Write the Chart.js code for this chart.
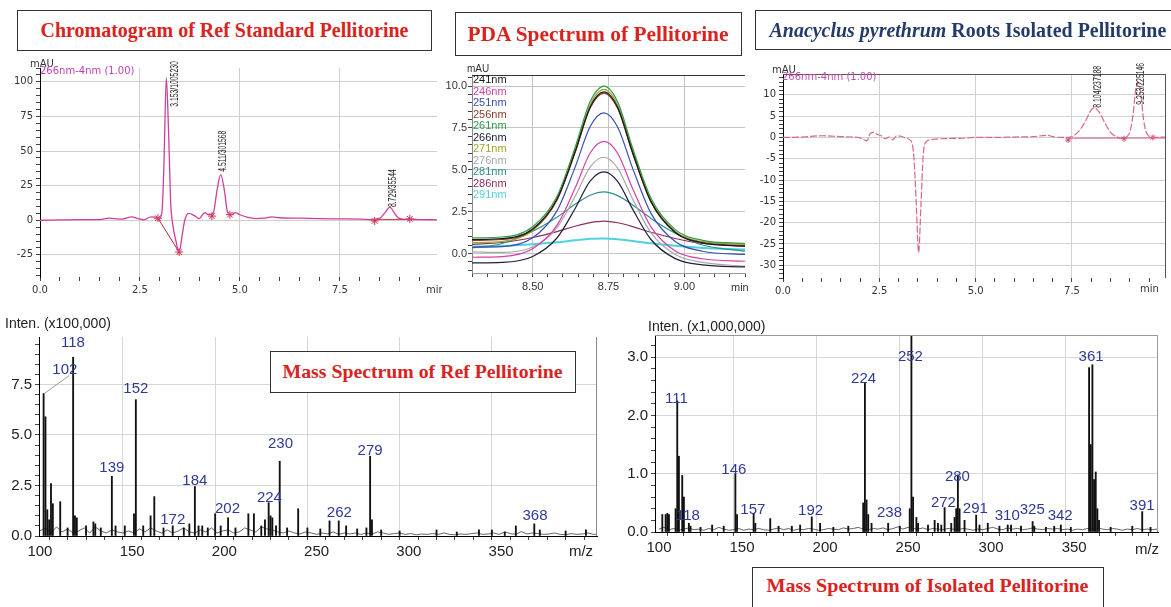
<!DOCTYPE html>
<html>
<head>
<meta charset="utf-8">
<script src="https://cdn.jsdelivr.net/npm/chart.js@4.4.1/dist/chart.umd.min.js"></script>
<style>
    body { margin: 0; width: 1171px; height: 607px; background: #fff; position: relative; overflow: hidden; font-family: "Liberation Serif", serif; }
    .pane { position: absolute; }
    .box { position: absolute; border: 1.5px solid #333; background: #fff; box-sizing: border-box; display: flex; align-items: center; justify-content: center; font-weight: bold; white-space: nowrap; z-index: 2; }
    .fit { display: inline-block; transform-origin: center; }
</style>
</head>
<body>
<div class="pane" style="left:0;top:40px;width:442px;height:262px"><canvas id="chrom1"></canvas></div>
<div class="pane" style="left:440px;top:58px;width:310px;height:242px"><canvas id="pda"></canvas></div>
<div class="pane" style="left:750px;top:58px;width:421px;height:245px"><canvas id="chrom2"></canvas></div>
<div class="pane" style="left:0;top:310px;width:605px;height:253px"><canvas id="ms1"></canvas></div>
<div class="pane" style="left:610px;top:310px;width:561px;height:255px"><canvas id="ms2"></canvas></div>

<div class="box" style="left:17px;top:10px;width:415px;height:41px"><span class="fit" data-w="368" style="color:#d8231f;font-size:21px">Chromatogram of Ref Standard Pellitorine</span></div>
<div class="box" style="left:455px;top:12px;width:287px;height:44px"><span class="fit" data-w="261" style="color:#d8231f;font-size:21px">PDA Spectrum of Pellitorine</span></div>
<div class="box" style="left:755px;top:10px;width:425px;height:40px"><span class="fit" data-w="397" style="color:#233a6b;font-size:20px"><i>Anacyclus pyrethrum</i> Roots Isolated Pellitorine</span></div>
<div class="box" style="left:270px;top:351px;width:306px;height:42px"><span class="fit" data-w="280" style="color:#d8231f;font-size:19px">Mass Spectrum of Ref Pellitorine</span></div>
<div class="box" style="left:752px;top:567px;width:352px;height:44px;padding-bottom:7px"><span class="fit" data-w="322" style="color:#d8231f;font-size:19px">Mass Spectrum of Isolated Pellitorine</span></div>

<script>
// chromatogram of reference standard (min, mAU)
const chrom1T = [0, 0.5, 1.0, 1.5, 1.72, 1.85, 2.05, 2.3, 2.45, 2.6, 2.78, 2.9, 2.98, 3.05, 3.1, 3.16, 3.22, 3.27, 3.32, 3.4, 3.48, 3.55, 3.62, 3.72, 3.85, 3.98, 4.12, 4.22, 4.33, 4.43, 4.52, 4.61, 4.69, 4.78, 4.88, 5.0, 5.2, 5.4, 5.6, 5.8, 6.0, 6.5, 7.0, 7.5, 8.0, 8.3, 8.5, 8.63, 8.75, 8.87, 8.97, 9.1, 9.5, 9.93];
const chrom1Y = [0, 0.2, 0.4, 0.5, 1.5, 1.2, 0.8, 2.5, 1.2, 0.3, 2.5, 2.2, 1.2, 6, 40, 103, 60, 12, -3, -15, -23, -12, 0, 5, 3.5, 1.2, 5.5, 4, 5, 22, 33, 22, 6, 4, 5.5, 4, 2, 1.2, 1.5, 2.5, 1.8, 1.5, 1.2, 1.0, 0.8, 0.5, 1.5, 5.5, 9.5, 5, 1.5, 0.8, 0.5, 0.3];
const chrom1MarkT = [2.95, 3.48, 4.3, 4.75, 8.37, 9.25];
const chrom1MarkY = [1.5, -23, 3, 4, -0.5, 1];
const chrom1Peaks = ["3.153/1005230", "4.511/301568", "8.729/35544"];

// isolated pellitorine chromatogram
const chrom2T = [0, 0.5, 1.0, 1.5, 2.0, 2.18, 2.26, 2.35, 2.45, 2.55, 2.65, 2.75, 2.85, 2.95, 3.05, 3.2, 3.33, 3.4, 3.46, 3.52, 3.58, 3.64, 3.72, 3.85, 4.1, 4.6, 5.0, 5.5, 6.0, 6.5, 6.85, 7.0, 7.2, 7.45, 7.65, 7.85, 7.98, 8.08, 8.2, 8.35, 8.5, 8.65, 8.8, 8.98, 9.08, 9.15, 9.22, 9.29, 9.36, 9.45, 9.6, 9.94];
const chrom2Y = [0, 0.1, 0.4, 0.2, -0.1, -0.8, 0.9, 1.2, 0.7, 0.4, -0.3, 0.1, -0.5, 0.4, 0.3, -0.2, -0.9, -5, -16, -27, -16, -4, -1, -0.5, -0.3, -0.2, 0, 0, 0.1, 0.2, 0.5, 0.2, 0, 0.1, 1.2, 3.8, 6.2, 7, 6, 3.5, 1.2, 0.2, -0.2, 0.8, 5, 11, 13, 10, 4, 0.8, 0, 0.1];
const chrom2Peaks = ["8.104/237188", "9.253/225146"];

// PDA spectrum, one trace per wavelength
const pdaT = [8.30, 8.40, 8.50, 8.58, 8.64, 8.69, 8.735, 8.78, 8.83, 8.89, 8.97, 9.06, 9.20];
const pdaLabels = ["241nm", "246nm", "251nm", "256nm", "261nm", "266nm", "271nm", "276nm", "281nm", "286nm", "291nm"];
const pda241 = [0.84, 0.89, 1.47, 3.24, 6.09, 8.77, 9.65, 8.73, 6.00, 3.10, 1.26, 0.64, 0.44];
const pda246 = [-0.22, -0.18, 0.29, 1.68, 3.91, 6.02, 6.70, 5.99, 3.86, 1.59, 0.16, -0.31, -0.46];
const pda251 = [0.38, 0.41, 0.94, 2.55, 5.16, 7.60, 8.40, 7.56, 5.07, 2.40, 0.72, 0.14, -0.05];
const pda256 = [0.78, 0.84, 1.43, 3.19, 6.03, 8.70, 9.58, 8.67, 5.96, 3.08, 1.28, 0.66, 0.48];
const pda261 = [0.94, 0.99, 1.60, 3.41, 6.34, 9.09, 10.0, 9.06, 6.27, 3.30, 1.43, 0.79, 0.60];
const pda266 = [-0.56, -0.53, -0.17, 0.93, 2.69, 4.34, 4.88, 4.31, 2.64, 0.84, -0.30, -0.68, -0.80];
const pda271 = [0.65, 0.73, 1.37, 3.20, 6.13, 8.89, 9.80, 8.88, 6.11, 3.16, 1.32, 0.71, 0.55];
const pda276 = [0.10, 0.07, 0.39, 1.54, 3.42, 5.18, 5.75, 5.10, 3.24, 1.24, -0.05, -0.53, -0.75];
const pda281 = [0.34, 0.60, 1.33, 2.17, 2.94, 3.48, 3.68, 3.46, 2.90, 2.10, 1.22, 0.51, 0.14];
const pda286 = [0.55, 0.66, 0.96, 1.31, 1.63, 1.85, 1.94, 1.84, 1.61, 1.27, 0.90, 0.60, 0.44];
const pda291 = [0.42, 0.45, 0.55, 0.67, 0.79, 0.88, 0.90, 0.86, 0.75, 0.61, 0.46, 0.33, 0.24];
const pdaSeries = [pda241, pda246, pda251, pda256, pda261, pda266, pda271, pda276, pda281, pda286, pda291];

// mass spectrum of reference (x100,000)
const ms1Mz = [102, 103, 104, 105, 106, 107, 111, 115, 118, 119, 120, 125, 129, 130, 133, 139, 141, 146, 151, 152, 156, 160, 162, 167, 172, 178, 181, 184, 186, 188, 191, 195, 198, 202, 206, 213, 216, 220, 222, 224, 225, 226, 228, 230, 234, 240, 245, 252, 257, 262, 266, 272, 277, 279, 280, 285, 295, 315, 326, 338, 345, 352, 358, 368, 371, 385, 396];
const ms1Int = [7.05, 5.9, 1.3, 0.8, 2.6, 1.6, 1.7, 0.4, 8.85, 1.0, 0.9, 0.5, 0.7, 0.6, 0.4, 2.95, 0.5, 0.5, 1.1, 6.75, 0.5, 1.0, 1.95, 0.4, 0.5, 0.4, 0.6, 2.45, 0.5, 0.5, 0.4, 1.1, 0.5, 0.9, 0.4, 1.1, 1.1, 0.5, 0.8, 1.65, 1.0, 0.9, 0.5, 3.7, 0.4, 1.35, 0.4, 0.35, 0.75, 0.75, 0.5, 0.35, 0.4, 3.95, 0.8, 0.3, 0.25, 0.3, 0.2, 0.3, 0.3, 0.2, 0.5, 0.6, 0.3, 0.25, 0.3];
const ms1Noise = [0.25, 0.4, 0.15, 0.45, 0.2, 0.35, 0.15, 0.25, 0.4, 0.15, 0.45, 0.25, 0.15, 0.3, 0.2, 0.15, 0.25, 0.15, 0.35, 0.2, 0.4,
    0.25, 0.15, 0.3, 0.15, 0.25, 0.4, 0.2, 0.15, 0.3, 0.2, 0.4, 0.15, 0.25, 0.3, 0.15, 0.2, 0.4, 0.3, 0.2, 0.45,
    0.35, 0.3, 0.2, 0.15, 0.25, 0.15, 0.1, 0.2, 0.15, 0.08, 0.15, 0.1, 0.2, 0.08, 0.15, 0.1, 0.15, 0.08, 0.15, 0.1,
    0.2, 0.15, 0.08, 0.12, 0.15, 0.08, 0.12, 0.06, 0.1, 0.08, 0.12, 0.08, 0.15, 0.08, 0.06, 0.1, 0.08, 0.12, 0.15, 0.08,
    0.1, 0.15, 0.08, 0.2, 0.12, 0.08, 0.22, 0.1, 0.15, 0.12, 0.08, 0.1, 0.15, 0.08, 0.06, 0.12, 0.08, 0.1, 0.15, 0.08, 0.1];
const ms1LabText = ["118", "102", "152", "139", "184", "172", "202", "224", "230", "262", "279", "368"];
const ms1LabMz = [117.9, 113.5, 152, 139, 184, 172, 201.7, 224.4, 230.4, 262.3, 279, 368.4];
const ms1LabY = [9.55, 8.2, 7.3, 3.35, 2.75, 0.8, 1.35, 1.9, 4.55, 1.15, 4.2, 1.0];

// mass spectrum of isolated compound (x1,000,000)
const ms2Mz = [102, 104, 105, 106, 110, 111, 112, 114, 115, 118, 119, 125, 132, 139, 146, 147, 157, 158, 167, 172, 180, 185, 192, 197, 205, 214, 223, 224, 225, 226, 228, 238, 245, 251, 252, 253, 255, 256, 262, 266, 268, 270, 272, 276, 278, 279, 280, 281, 284, 291, 293, 298, 305, 310, 312, 318, 325, 326, 333, 338, 342, 348, 359, 360, 361, 362, 363, 364, 365, 372, 385, 391, 396];
const ms2Int = [0.3, 0.3, 0.32, 0.3, 0.4, 2.25, 1.3, 0.97, 0.6, 0.15, 0.1, 0.08, 0.12, 0.1, 1.0, 0.3, 0.32, 0.15, 0.23, 0.1, 0.1, 0.12, 0.26, 0.15, 0.08, 0.1, 0.5, 2.55, 0.55, 0.3, 0.15, 0.15, 0.1, 0.4, 3.37, 0.6, 0.25, 0.15, 0.12, 0.2, 0.15, 0.12, 0.42, 0.15, 0.25, 0.4, 0.98, 0.4, 0.2, 0.29, 0.12, 0.15, 0.1, 0.12, 0.12, 0.1, 0.18, 0.1, 0.08, 0.1, 0.12, 0.08, 2.82, 1.5, 2.87, 0.9, 1.03, 0.4, 0.2, 0.08, 0.1, 0.35, 0.08];
const ms2Noise = [0.05, 0.08, 0.04, 0.06, 0.03, 0.05, 0.07, 0.04, 0.05, 0.03, 0.06, 0.04, 0.08, 0.05, 0.03, 0.04, 0.06, 0.03, 0.05, 0.04, 0.06,
    0.04, 0.03, 0.05, 0.07, 0.04, 0.06, 0.03, 0.05, 0.04, 0.06, 0.05, 0.03, 0.04, 0.06, 0.05, 0.04, 0.07, 0.05, 0.06,
    0.08, 0.05, 0.04, 0.06, 0.05, 0.07, 0.04, 0.06, 0.09, 0.05, 0.08, 0.06, 0.05, 0.07, 0.04, 0.06, 0.05, 0.04, 0.06, 0.05,
    0.04, 0.06, 0.05, 0.03, 0.05, 0.04, 0.06, 0.08, 0.05, 0.04, 0.07, 0.05, 0.06, 0.04, 0.05, 0.07, 0.05, 0.04, 0.06, 0.05,
    0.06, 0.04, 0.05, 0.03, 0.05, 0.04, 0.06, 0.05, 0.07, 0.05, 0.04, 0.06, 0.05, 0.03, 0.05, 0.04, 0.06, 0.04, 0.05, 0.04, 0.05];
const ms2LabText = ["111", "118", "146", "157", "192", "224", "238", "252", "272", "280", "291", "310", "325", "342", "361", "391"];
const ms2LabMz = [110.5, 117.4, 145.1, 156.5, 191.3, 223.2, 238.8, 251.4, 271.3, 279.7, 290.5, 309.7, 324.8, 341.6, 360.2, 390.9];
const ms2LabY = [2.29, 0.28, 1.06, 0.38, 0.36, 2.63, 0.33, 3.0, 0.5, 0.95, 0.4, 0.28, 0.38, 0.28, 3.0, 0.45];

const NARROW = "'Liberation Sans Narrow', 'Liberation Sans', sans-serif";
const SANS = "'Liberation Sans', Arial, sans-serif";
const DJ = "'DejaVu Sans', sans-serif";
const MS_BLUE = "#2d3a98";

// stretch the title texts to the widths seen in the figure
document.querySelectorAll(".fit").forEach((el) => {
    el.style.transform = `scaleX(${+el.dataset.w / el.offsetWidth})`;
});

const pts = (xs, ys) => xs.map((x, i) => ({ x: x, y: ys[i] }));
const multipleOf = (step) => (v) => Math.abs(v / step - Math.round(v / step)) < 1e-6;

function overlay(items, frame) {
    return {
        id: "overlay",
        afterDraw(chart) {
            const { ctx, chartArea: a, scales } = chart;
            ctx.save();
            if (frame) {
                ctx.lineWidth = 1;
                if (frame.top) {
                    ctx.strokeStyle = frame.top;
                    ctx.beginPath();
                    ctx.moveTo(a.left, a.top + 0.5);
                    ctx.lineTo(a.right, a.top + 0.5);
                    ctx.stroke();
                }
                if (frame.right) {
                    ctx.strokeStyle = frame.right;
                    ctx.beginPath();
                    ctx.moveTo(a.right - 0.5, a.top);
                    ctx.lineTo(a.right - 0.5, a.bottom);
                    ctx.stroke();
                }
            }
            items.forEach((n) => {
                let px = n.x, py = n.y;
                if (n.data) {
                    px = scales.x.getPixelForValue(n.x);
                    py = scales.y.getPixelForValue(n.y);
                }
                if (n.line) {
                    ctx.strokeStyle = n.color;
                    ctx.lineWidth = 1;
                    ctx.beginPath();
                    ctx.moveTo(px, py);
                    ctx.lineTo(scales.x.getPixelForValue(n.line[0]), scales.y.getPixelForValue(n.line[1]));
                    ctx.stroke();
                    return;
                }
                ctx.save();
                ctx.translate(px, py);
                if (n.rot) ctx.rotate(n.rot);
                if (n.sx) ctx.scale(n.sx, 1);
                ctx.font = n.font;
                ctx.fillStyle = n.color;
                ctx.textAlign = n.align || "left";
                ctx.textBaseline = n.base || "middle";
                ctx.fillText(n.text, 0, 0);
                ctx.restore();
            });
            ctx.restore();
        },
    };
}

function axis(o) {
    const major = o.major;
    return {
        type: "linear",
        min: o.min,
        max: o.max,
        offset: false,
        afterFit: (s) => {
            if (o.x) s.height = o.size;
            else s.width = o.size;
        },
        border: { display: !!o.border, color: o.border || "#000", width: 1 },
        grid: {
            color: (c) => (c.tick && major(c.tick.value) ? o.grid : "rgba(0,0,0,0)"),
            tickColor: o.tickColor || "#444",
            tickLength: 4,
            drawTicks: true,
        },
        ticks: {
            stepSize: o.step,
            autoSkip: false,
            includeBounds: false,
            maxRotation: 0,
            padding: o.pad === undefined ? 3 : o.pad,
            font: o.font,
            color: o.color || "#333",
            callback: (v) => (major(v) ? o.label(v) : ""),
        },
    };
}

const baseOpts = (pad, scales) => ({
    responsive: true,
    maintainAspectRatio: false,
    animation: false,
    layout: { padding: pad },
    plugins: { legend: { display: false }, tooltip: { enabled: false } },
    scales: scales,
});

// ---- chromatogram of reference standard
const chromFont = { family: DJ, size: 10 };
new Chart(document.getElementById("chrom1"), {
    type: "line",
    data: {
        datasets: [
            {
                data: pts(chrom1T, chrom1Y),
                borderColor: "#cf3f9a",
                borderWidth: 1.3,
                pointRadius: 0,
                cubicInterpolationMode: "monotone",
            },
            {
                data: pts([chrom1MarkT[0], chrom1MarkT[1]], [chrom1MarkY[0], chrom1MarkY[1]]),
                borderColor: "#a8283a",
                borderWidth: 1,
                pointRadius: 0,
            },
            {
                data: pts([chrom1MarkT[4], chrom1MarkT[5]], [0.5, 0.5]),
                borderColor: "#d04040",
                borderWidth: 1,
                pointRadius: 0,
            },
            {
                data: pts(chrom1MarkT, chrom1MarkY),
                showLine: false,
                pointStyle: "star",
                pointRadius: 4,
                borderColor: "#d0283c",
                borderWidth: 1,
            },
        ],
    },
    options: baseOpts({ top: 28, right: 2, left: 0, bottom: 0 }, {
        x: axis({ x: true, size: 25, min: 0, max: 9.93, step: 0.5, major: multipleOf(2.5), label: (v) => v.toFixed(1), grid: "#cfcfcf", font: chromFont }),
        y: axis({ size: 40, min: -41, max: 110, step: 5, major: multipleOf(25), label: (v) => String(v), grid: "#cfcfcf", border: "#000", font: chromFont }),
    }),
    plugins: [
        overlay([
            { text: "mAU", x: 30, y: 24, font: `10px ${DJ}`, color: "#333" },
            { text: "266nm-4nm (1.00)", x: 40, y: 31, font: `10px ${DJ}`, color: "#c040b0" },
            { text: "min", x: 426, y: 250, font: `10px ${DJ}`, color: "#333" },
            { text: chrom1Peaks[0], data: true, x: 3.37, y: 82, rot: -Math.PI / 2, sx: 0.62, font: `11px ${NARROW}`, color: "#222" },
            { text: chrom1Peaks[1], data: true, x: 4.58, y: 35, rot: -Math.PI / 2, sx: 0.62, font: `11px ${NARROW}`, color: "#222" },
            { text: chrom1Peaks[2], data: true, x: 8.84, y: 9.5, rot: -Math.PI / 2, sx: 0.62, font: `11px ${NARROW}`, color: "#222" },
        ]),
    ],
});

// ---- PDA spectrum
const pdaColors = ["#1a1a1a", "#d63fa8", "#3a4fb0", "#8a3d2a", "#2e9a4a", "#20203c", "#a5a52a", "#a8a8a8", "#2f8f8f", "#8a2f5e", "#4fd2e0"];
const pdaFont = { family: NARROW, size: 11 };
new Chart(document.getElementById("pda"), {
    type: "line",
    data: {
        datasets: pdaSeries.map((s, i) => ({
            label: pdaLabels[i],
            data: pts(pdaT, s),
            borderColor: pdaColors[i],
            borderWidth: i === 10 ? 2 : 1.2,
            pointRadius: 0,
            cubicInterpolationMode: "monotone",
        })),
    },
    options: baseOpts({ top: 17, right: 5, left: 0, bottom: 0 }, {
        x: axis({ x: true, size: 27, min: 8.3, max: 9.2, step: 0.05, major: multipleOf(0.25), label: (v) => v.toFixed(2), grid: "#c4c4c4", border: "#999", font: pdaFont }),
        y: axis({ size: 32, min: -1.16, max: 10.66, step: 0.5, major: multipleOf(2.5), label: (v) => v.toFixed(1), grid: "#c4c4c4", border: "#888", font: pdaFont, pad: 1 }),
    }),
    plugins: [
        overlay(
            [{ text: "mAU", x: 27, y: 11, font: `10px ${NARROW}`, color: "#333" }, { text: "min", x: 291, y: 230, font: `11px ${NARROW}`, color: "#333" }].concat(
                pdaLabels.map((l, i) => ({ text: l, x: 33, y: 22 + i * 11.5, font: `11px ${NARROW}`, color: pdaColors[i] }))
            ),
            { top: "#333" }
        ),
    ],
});

// ---- isolated pellitorine chromatogram
new Chart(document.getElementById("chrom2"), {
    type: "line",
    data: {
        datasets: [
            {
                data: pts(chrom2T, chrom2Y),
                borderColor: "#d9668c",
                borderWidth: 1.2,
                borderDash: [7, 2],
                pointRadius: 0,
                cubicInterpolationMode: "monotone",
            },
            {
                data: pts([7.4, 9.94], [-0.2, -0.1]),
                borderColor: "rgba(200,70,90,0.55)",
                borderWidth: 1.5,
                pointRadius: 0,
            },
            {
                data: pts([7.4, 8.85, 9.6], [-0.6, -0.3, 0]),
                showLine: false,
                pointStyle: "star",
                pointRadius: 3,
                borderColor: "#d0506a",
                borderWidth: 1,
            },
        ],
    },
    options: baseOpts({ top: 16, right: 3, left: 0, bottom: 0 }, {
        x: axis({ x: true, size: 25, min: 0, max: 9.94, step: 0.5, major: multipleOf(2.5), label: (v) => v.toFixed(1), grid: "#d0d0d0", font: chromFont }),
        y: axis({ size: 33, min: -33, max: 14.9, step: 1, major: multipleOf(5), label: (v) => String(v), grid: "#d0d0d0", border: "#000", font: chromFont }),
    }),
    plugins: [
        overlay(
            [
                { text: "mAU", x: 22, y: 12, font: `10px ${DJ}`, color: "#333" },
                { text: "266nm-4nm (1.00)", x: 32, y: 19, font: `10px ${DJ}`, color: "#c050b0" },
                { text: "min", x: 390, y: 231, font: `10px ${DJ}`, color: "#333" },
                { text: chrom2Peaks[0], data: true, x: 8.18, y: 7.0, rot: -Math.PI / 2, sx: 0.62, font: `11px ${NARROW}`, color: "#222" },
                { text: chrom2Peaks[1], data: true, x: 9.29, y: 7.7, rot: -Math.PI / 2, sx: 0.62, font: `11px ${NARROW}`, color: "#222" },
            ],
            { top: "#555", right: "#555" }
        ),
    ],
});

// ---- mass spectra
const msFont = { family: SANS, size: 15 };
function massSpectrum(id, mz, inten, noise, lab, o) {
    new Chart(document.getElementById(id), {
        type: "bar",
        data: {
            datasets: [
                {
                    type: "bar",
                    data: pts(mz, inten),
                    backgroundColor: "#111",
                    barThickness: 1.2,
                    grouped: false,
                },
                {
                    type: "line",
                    data: noise.map((v, i) => ({ x: 100 + i * 3, y: v })),
                    borderColor: "#222",
                    borderWidth: 0.7,
                    pointRadius: 0,
                },
            ],
        },
        options: baseOpts(o.pad, {
            x: axis({ x: true, size: o.xh, min: o.xmin, max: o.xmax, step: 10, major: (v) => multipleOf(50)(v) && v < 400, label: (v) => String(v), grid: "#d6d6d6", border: "#000", font: msFont, color: "#222" }),
            y: axis({ size: o.yw, min: 0, max: o.ymax, step: o.ystep, major: multipleOf(o.ymajor), label: (v) => v.toFixed(1), grid: "#d6d6d6", border: "#000", font: msFont, color: "#222" }),
        }),
        plugins: [overlay(o.notes.concat(lab), o.frame)],
    });
}

massSpectrum(
    "ms1", ms1Mz, ms1Int, ms1Noise,
    ms1LabText.map((t, i) => ({ text: t, data: true, x: ms1LabMz[i], y: ms1LabY[i], align: "center", font: `15px ${SANS}`, color: MS_BLUE })),
    {
        pad: { top: 27, right: 8, left: 0, bottom: 0 }, xh: 27, yw: 39,
        xmin: 99.5, xmax: 402, ymax: 9.85, ystep: 0.5, ymajor: 2.5,
        frame: { right: "#888" },
        notes: [
            { text: "Inten. (x100,000)", x: 5, y: 14, font: `14px ${SANS}`, color: "#222" },
            { text: "m/z", x: 581, y: 242, align: "center", font: `15px ${SANS}`, color: "#222" },
            { data: true, x: 102.3, y: 7.05, line: [116, 7.95], color: "#999" },
        ],
    }
);

massSpectrum(
    "ms2", ms2Mz, ms2Int, ms2Noise,
    ms2LabText.map((t, i) => ({ text: t, data: true, x: ms2LabMz[i], y: ms2LabY[i], align: "center", font: `15px ${SANS}`, color: MS_BLUE })),
    {
        pad: { top: 25, right: 13, left: 0, bottom: 0 }, xh: 33, yw: 45,
        xmin: 97.6, xmax: 400.5, ymax: 3.38, ystep: 0.2, ymajor: 1,
        frame: { top: "#999", right: "#999" },
        notes: [
            { text: "Inten. (x1,000,000)", x: 38, y: 17, font: `14px ${SANS}`, color: "#222" },
            { text: "m/z", x: 537, y: 240, align: "center", font: `15px ${SANS}`, color: "#222" },
        ],
    }
);
</script>
</body>
</html>
